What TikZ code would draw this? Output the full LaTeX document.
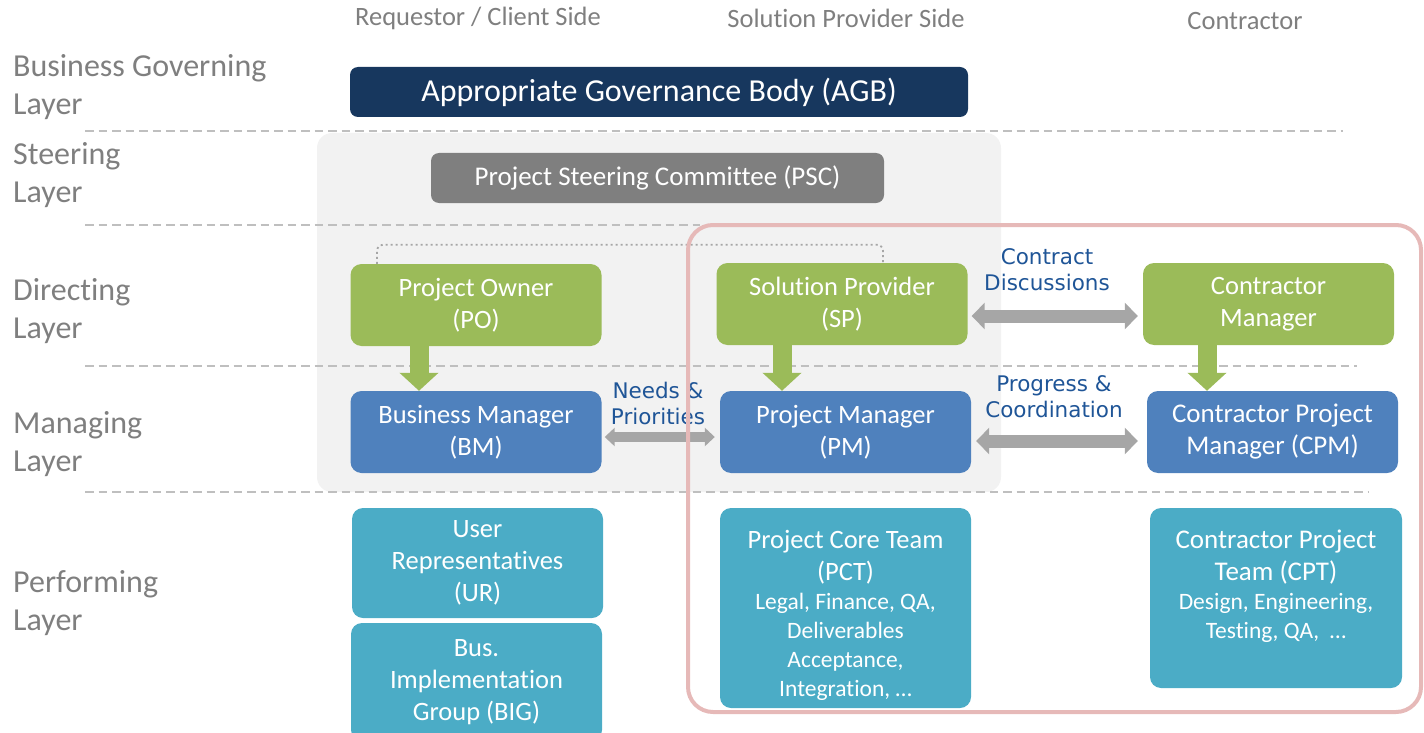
\documentclass[tikz,border=0pt]{standalone}
\usepackage{fontspec}
\setmainfont[Ligatures=NoCommon]{Carlito}
\newfontfamily\flowfont{DejaVu Sans}
\usetikzlibrary{arrows.meta}
\definecolor{navy}{HTML}{17375E}
\definecolor{pscgray}{HTML}{7F7F7F}
\definecolor{boxgreen}{HTML}{9BBB59}
\definecolor{boxblue}{HTML}{4F81BD}
\definecolor{boxteal}{HTML}{4BACC6}
\definecolor{arrowgray}{HTML}{A6A6A6}
\definecolor{flowblue}{HTML}{1F5597}
\definecolor{textgray}{HTML}{7F7F7F}
\definecolor{panelgray}{HTML}{F2F2F2}
\definecolor{linegray}{HTML}{BFBFBF}
\definecolor{framered}{HTML}{E6B9B8}
\newcommand{\smalltext}{\fontsize{23.5}{29}\selectfont}

\begin{document}
\begin{tikzpicture}[x=1pt, y=-1pt,
  box/.style={rounded corners=11pt, text=white, align=center, inner sep=0pt,
    minimum width=251pt, minimum height=82pt, font=\fontsize{26.5}{32}\selectfont},
  header/.style={text=textgray, font=\fontsize{26.5}{30}\selectfont, inner sep=0pt},
  layername/.style={text=textgray, anchor=west, align=left, inner sep=0pt,
    font=\fontsize{32}{38}\selectfont},
  flowlabel/.style={text=flowblue, align=center, inner sep=0pt,
    font=\flowfont\fontsize{21.5}{26}\selectfont},
  layerline/.style={draw=linegray, line width=1.5pt, dash pattern=on 8.5pt off 5pt},
  dotlink/.style={draw=arrowgray, line width=1.8pt, dash pattern=on 2pt off 3pt,
    rounded corners=6pt},
  greenarrow/.style={draw=boxgreen, line width=19pt, -{Triangle[width=38pt,length=18pt]}},
  smallarrow/.style={draw=arrowgray, line width=9.5pt,
    {Triangle[width=18pt,length=10pt]}-{Triangle[width=18pt,length=10pt]}},
  bigarrow/.style={draw=arrowgray, line width=13pt,
    {Triangle[width=26pt,length=13pt]}-{Triangle[width=26pt,length=13pt]}}]

\useasboundingbox (0,0) rectangle (1424,733);

% background panel and layer separators
\fill[panelgray, rounded corners=15pt] (317,133) rectangle (1001,492);
\foreach \y/\xend in {131/1343, 225/700, 366/1357, 492/1368}
  \draw[layerline] (85,\y) -- (\xend,\y);

% column headers
\node[header] (hclient) at (478,18) {Requestor / Client Side};
\node[header] (hprovider) at (846,18) {Solution Provider Side};
\node[header] (hcontractor) at (1245,21) {Contractor};

% layers
\node[layername] (lgov) at (13,87) {Business Governing\\Layer};
\node[layername] (lsteer) at (13,175) {Steering\\Layer};
\node[layername] (ldirect) at (13,311) {Directing\\Layer};
\node[layername] (lmanage) at (13,444) {Managing\\Layer};
\node[layername] (lperform) at (13,603) {Performing\\Layer};

% boxes
\node[box, fill=navy, minimum width=618pt, minimum height=50pt, rounded corners=8pt,
  font=\fontsize{32}{36}\selectfont] (agb) at (659,92) {Appropriate Governance Body (AGB)};
\node[box, fill=pscgray, minimum width=453pt, minimum height=50pt, rounded corners=8pt,
  font=\fontsize{27}{32}\selectfont] (psc) at (657.5,178) {Project Steering Committee (PSC)};

\node[box, fill=boxgreen] (po) at (476,305) {Project Owner\\(PO)};
\node[box, fill=boxgreen] (sp) at (842,304) {Solution Provider\\(SP)};
\node[box, fill=boxgreen, font=\fontsize{26.5}{32}\selectfont] (cm) at (1268.5,304) {Contractor\\Manager};

\node[box, fill=boxblue] (bm) at (476,432) {Business Manager\\(BM)};
\node[box, fill=boxblue] (pm) at (845.5,432) {Project Manager\\(PM)};
\node[box, fill=boxblue, font=\fontsize{27}{32}\selectfont] (cpm) at (1272.5,432) {Contractor Project\\Manager (CPM)};

\node[box, fill=boxteal, minimum height=110pt] (ur) at (477.5,563) {User\\Representatives\\(UR)};
\node[box, fill=boxteal, minimum height=118pt] (big) at (476.5,682) {Bus.\\Implementation\\Group (BIG)};
\node[box, fill=boxteal, minimum height=200pt] (pct) at (845.5,608) {};
\node[text=white, align=center, font=\fontsize{26.5}{32}\selectfont] (pcttext) at (845.5,615)
  {Project Core Team\\(PCT)\\[-3pt]{\smalltext Legal, Finance, QA,}\\[-3pt]{\smalltext Deliverables}\\[-3pt]{\smalltext Acceptance,}\\[-3pt]{\smalltext Integration, …}};
\node[box, fill=boxteal, minimum width=252pt, minimum height=180pt] (cpt) at (1276,598) {};
\node[text=white, align=center, font=\fontsize{27}{32}\selectfont] (cpttext) at (1276,586)
  {Contractor Project\\Team (CPT)\\[-3pt]{\smalltext Design, Engineering,}\\[-3pt]{\smalltext Testing, QA,~ …}};

% links
\draw[dotlink] (377,0 |- po.north) -- ++(0,-19) -| (883,0 |- sp.north);

\draw[greenarrow] (419,0 |- po.south) -- (419,0 |- bm.north);
\draw[greenarrow] (782,0 |- sp.south) -- (782,0 |- pm.north);
\draw[greenarrow] (1207,0 |- cm.south) -- (1207,0 |- cpm.north);

\draw[smallarrow, shorten <=3pt, shorten >=5pt] ([yshift=-5pt]bm.east) -- ([yshift=-5pt]pm.west);
\draw[bigarrow, shorten <=4pt, shorten >=5pt] ([yshift=-12pt]sp.east) -- ([yshift=-12pt]cm.west);
\draw[bigarrow, shorten <=5pt, shorten >=9pt] ([yshift=-9pt]pm.east) -- ([yshift=-9pt]cpm.west);

\node[flowlabel] (needs) at (658,403) {Needs \&\\Priorities};
\node[flowlabel] (contract) at (1047,270) {Contract\\Discussions};
\node[flowlabel] (progress) at (1054,397) {Progress \&\\Coordination};

% contractor scope
\draw[framered, line width=4pt, rounded corners=25pt] (688,225) rectangle (1421,712);

\end{tikzpicture}
\end{document}
